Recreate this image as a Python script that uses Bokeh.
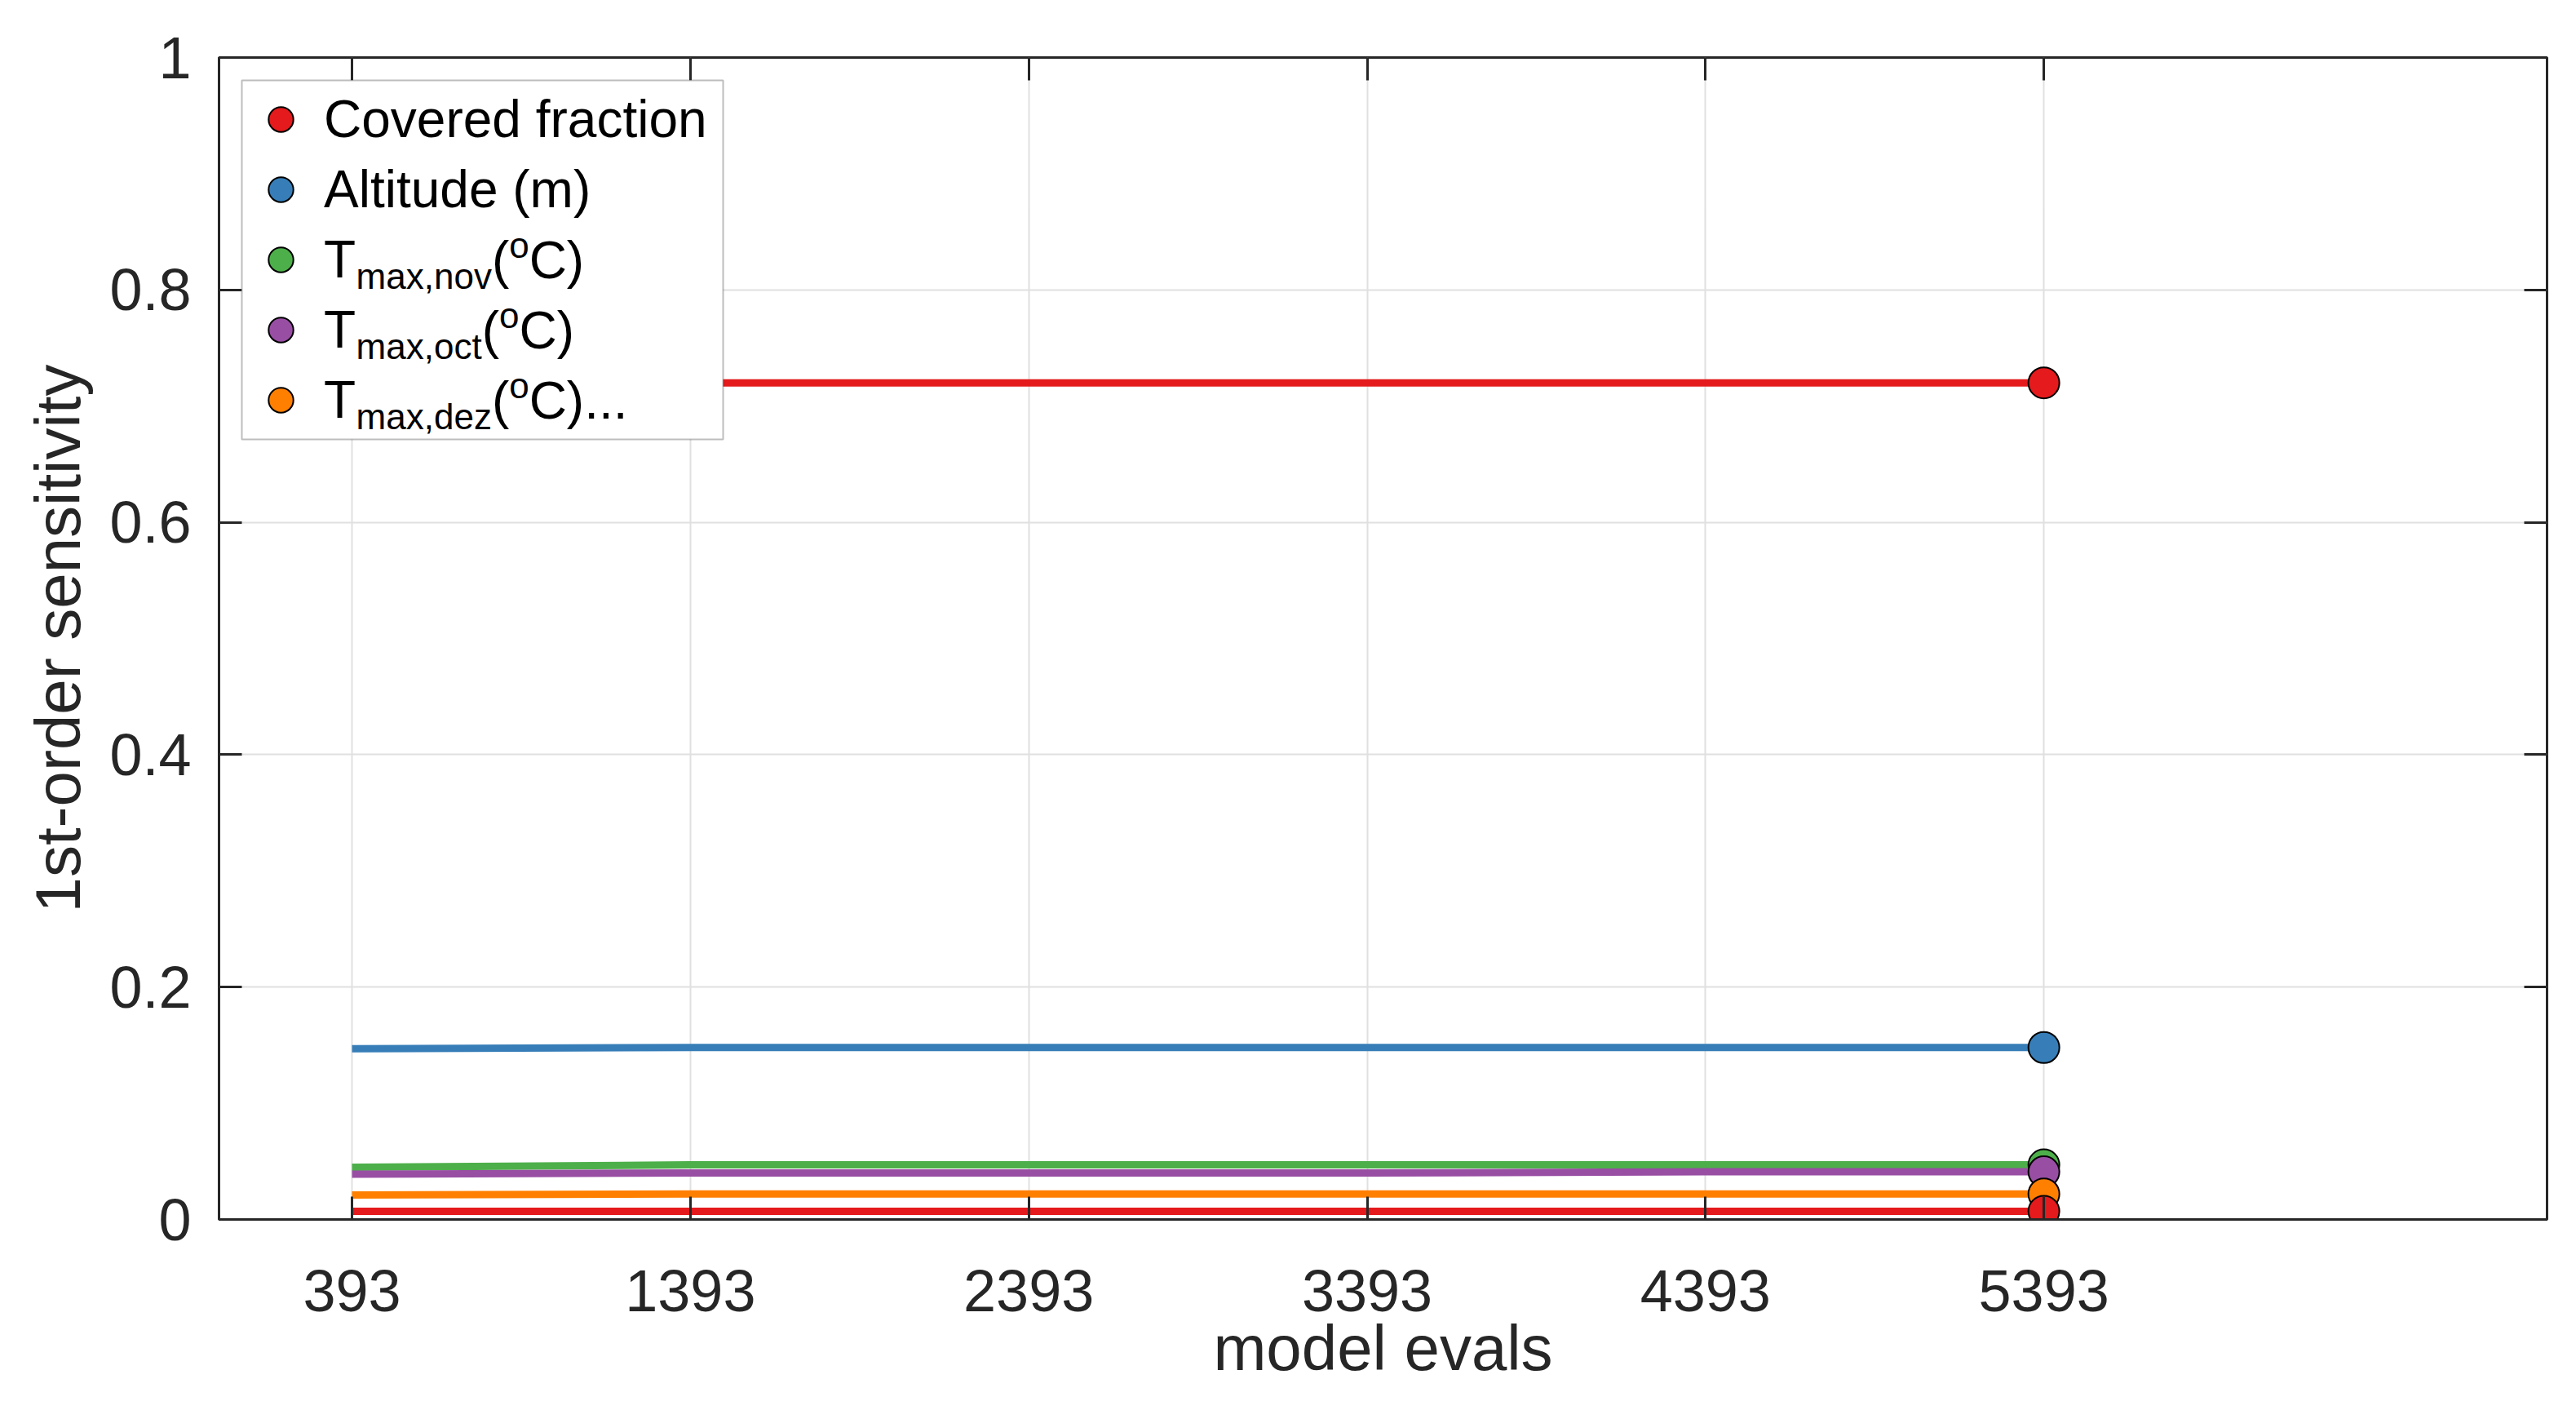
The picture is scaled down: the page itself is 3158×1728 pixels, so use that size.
from bokeh.embed import file_html
from bokeh.models import BoxAnnotation, FixedTicker, Label, Legend, LegendItem, LinearAxis, Range1d
from bokeh.plotting import figure
from bokeh.resources import INLINE

# data
model_evals = [393, 1393, 2393, 3393, 4393, 5393]
covered_fraction = [0.720, 0.720, 0.720, 0.720, 0.720, 0.720]
altitude = [0.147, 0.148, 0.148, 0.148, 0.148, 0.148]
tmax_nov = [0.045, 0.047, 0.047, 0.047, 0.047, 0.047]
tmax_oct = [0.039, 0.040, 0.040, 0.040, 0.041, 0.041]
tmax_dez = [0.021, 0.022, 0.022, 0.022, 0.022, 0.022]
other_param = [0.007, 0.007, 0.007, 0.007, 0.007, 0.007]

all_series = [covered_fraction, altitude, tmax_nov, tmax_oct, tmax_dez, other_param]
colors = ["#e41a1c", "#377eb8", "#4daf4a", "#984ea3", "#ff7f00", "#e41a1c"]

# legend text: main part, subscript, tail after "(" + superscript "o"
legend_main = ["Covered fraction", "Altitude (m)", "T", "T", "T"]
legend_sub = ["", "", "max,nov", "max,oct", "max,dez"]
legend_tail = ["", "", "C)", "C)", "C)..."]

x_ticks = [393, 1393, 2393, 3393, 4393, 5393]
y_ticks = [0, 0.2, 0.4, 0.6, 0.8, 1]
y_tick_labels = ["0", "0.2", "0.4", "0.6", "0.8", "1"]

X_START, X_END = 0, 6880
Y_START, Y_END = 0, 1

FONT = "Liberation Sans"
TEXT_COLOR = "#262626"
W, H = 3140, 1728
BORDER_L, BORDER_T = 268, 70
BORDER_R = W - 3122
BORDER_B = H - 1494
FRAME_W = W - BORDER_L - BORDER_R
FRAME_H = H - BORDER_T - BORDER_B

# Arial / Liberation Sans advance widths (per 1000 em)
CHAR_W = {
    "T": 611, "C": 722, "(": 333, ")": 333, "o": 556, "m": 833, "a": 556,
    "x": 500, ",": 278, "n": 556, "v": 500, "c": 500, "t": 278, "d": 556,
    "e": 556, "z": 500, ".": 278,
}


def text_width(s, size):
    return sum(CHAR_W.get(ch, 556) for ch in s) * size / 1000.0


def frame_to_data(px, py_from_top):
    """pixel offset inside the frame -> data coordinates"""
    x = X_START + px / FRAME_W * (X_END - X_START)
    y = Y_END - py_from_top / FRAME_H * (Y_END - Y_START)
    return x, y


p = figure(
    width=W, height=H,
    x_range=Range1d(X_START, X_END), y_range=Range1d(Y_START, Y_END),
    output_backend="svg", toolbar_location=None,
    min_border_left=BORDER_L, min_border_right=BORDER_R,
    min_border_top=BORDER_T, min_border_bottom=BORDER_B,
    x_axis_label="model evals", y_axis_label="1st-order sensitivity",
)
p.outline_line_color = TEXT_COLOR
p.outline_line_width = 3
p.background_fill_color = "white"
p.border_fill_color = "white"

for ax in (p.xaxis[0], p.yaxis[0]):
    ax.major_tick_in = 28
    ax.major_tick_out = 0
    ax.minor_tick_line_color = None
    ax.axis_line_color = TEXT_COLOR
    ax.axis_line_width = 3
    ax.major_tick_line_color = TEXT_COLOR
    ax.major_tick_line_width = 3
    ax.major_label_text_font = FONT
    ax.major_label_text_font_size = "72px"
    ax.major_label_text_color = TEXT_COLOR
    ax.axis_label_text_font = FONT
    ax.axis_label_text_font_size = "78px"
    ax.axis_label_text_font_style = "normal"
    ax.axis_label_text_color = TEXT_COLOR

p.xaxis[0].ticker = FixedTicker(ticks=x_ticks)
p.xaxis[0].major_label_standoff = 62
p.xaxis[0].axis_label_standoff = -2
p.yaxis[0].ticker = FixedTicker(ticks=y_ticks)
p.yaxis[0].major_label_overrides = dict(zip(y_ticks, y_tick_labels))
p.yaxis[0].major_label_standoff = 34
p.yaxis[0].axis_label_standoff = 16

# mirrored tick marks on the top and right edges
for side, ticks in (("above", x_ticks), ("right", y_ticks)):
    mirror = LinearAxis(ticker=FixedTicker(ticks=ticks))
    mirror.major_label_overrides = {t: "" for t in ticks}
    mirror.major_label_standoff = 0
    mirror.major_tick_in = 28
    mirror.major_tick_out = 0
    mirror.minor_tick_line_color = None
    mirror.axis_line_color = None
    mirror.major_tick_line_color = TEXT_COLOR
    mirror.major_tick_line_width = 3
    p.add_layout(mirror, side)

p.xgrid.ticker = FixedTicker(ticks=x_ticks)
p.ygrid.ticker = FixedTicker(ticks=y_ticks)
for g in (p.xgrid[0], p.ygrid[0]):
    g.grid_line_color = "#e0e0e0"
    g.grid_line_width = 2

for values, color in zip(all_series, colors):
    p.line(model_evals, values, line_color=color, line_width=9)

end_markers = []
for values, color in zip(all_series, colors):
    r = p.scatter([model_evals[-1]], [values[-1]], size=38, marker="circle",
                  fill_color=color, line_color="black", line_width=2)
    end_markers.append(r)

# legend
L_MARGIN, L_PAD, L_SPACING = 28, 10, 10
GLYPH_W, ROW_H, L_STANDOFF, L_LABEL_W = 76, 76, 15, 479
L_FONT = 64
SUB_FONT = 44
L_BOX_W = 2 * L_PAD + GLYPH_W + L_STANDOFF + L_LABEL_W
L_BOX_H = 2 * L_PAD + len(legend_main) * ROW_H + (len(legend_main) - 1) * L_SPACING

# white legend box drawn separately so the text pieces can sit on top of it
bx0, by0 = frame_to_data(L_MARGIN, L_MARGIN)
bx1, by1 = frame_to_data(L_MARGIN + L_BOX_W, L_MARGIN + L_BOX_H)
p.add_layout(BoxAnnotation(
    left=bx0, right=bx1, top=by0, bottom=by1,
    fill_color="white", fill_alpha=1.0, line_color=TEXT_COLOR, line_width=2,
    level="annotation",
))

legend = Legend(
    items=[LegendItem(label=txt, renderers=[r]) for txt, r in zip(legend_main, end_markers)],
    location="top_left", margin=L_MARGIN + L_PAD, padding=0, spacing=L_SPACING,
    glyph_width=GLYPH_W, glyph_height=ROW_H, label_height=ROW_H, label_width=L_LABEL_W,
    label_standoff=L_STANDOFF, label_text_font=FONT, label_text_font_size=f"{L_FONT}px",
    label_text_color="black", border_line_color=None,
    background_fill_alpha=0.0,
)
p.add_layout(legend)

# subscripts / superscripts drawn on the legend rows
text_x = L_MARGIN + L_PAD + GLYPH_W + L_STANDOFF
for i, (main, sub, tail) in enumerate(zip(legend_main, legend_sub, legend_tail)):
    if not sub:
        continue
    row_top = L_MARGIN + L_PAD + ROW_H / 2 + i * (ROW_H + L_SPACING)
    x_sub = text_x + text_width(main, L_FONT)
    x_par = x_sub + text_width(sub, SUB_FONT)
    x_sup = x_par + text_width("(", L_FONT)
    x_tail = x_sup + text_width("o", SUB_FONT)
    pieces = [
        (x_sub, row_top + 20, sub, SUB_FONT),
        (x_par, row_top, "(", L_FONT),
        (x_sup, row_top - 18, "o", SUB_FONT),
        (x_tail, row_top, tail, L_FONT),
    ]
    for px, py, txt, size in pieces:
        dx, dy = frame_to_data(px, py)
        p.add_layout(Label(
            x=dx, y=dy, text=txt,
            text_font=FONT, text_font_size=f"{size}px", text_color="black",
            text_baseline="middle", text_align="left", level="overlay",
        ))

open("out.html", "w").write(file_html(p, INLINE))
